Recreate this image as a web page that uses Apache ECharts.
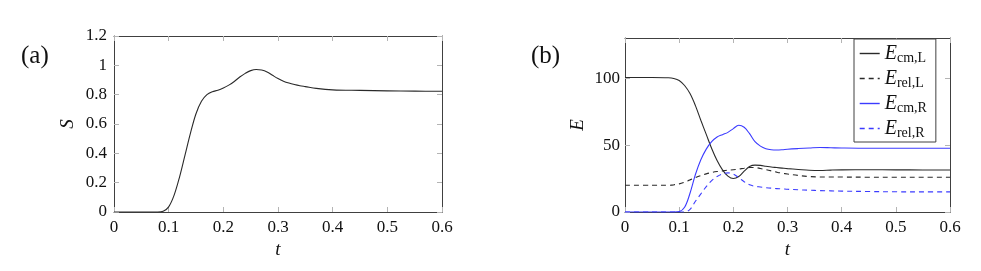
<!DOCTYPE html>
<html><head><meta charset="utf-8">
<script src="https://cdn.jsdelivr.net/npm/echarts@6/dist/echarts.min.js"></script>
<style>html,body{margin:0;padding:0;background:#fff}#c{width:981px;height:271px}</style>
</head><body><div id="c"></div>
<script>
// ---- data ----
const tS = [0,0.08,0.09,0.1,0.11,0.12,0.13,0.14,0.15,0.16,0.17,0.18,0.19,0.2,0.21,0.22,0.23,0.24,0.25,0.26,0.27,0.28,0.29,0.3,0.31,0.32,0.33,0.34,0.35,0.37,0.4,0.45,0.5,0.55,0.6];
const S  = [0,0,0.005,0.035,0.115,0.24,0.39,0.54,0.67,0.755,0.8,0.82,0.83,0.845,0.865,0.89,0.92,0.945,0.964,0.972,0.968,0.955,0.932,0.91,0.892,0.879,0.869,0.861,0.855,0.843,0.833,0.829,0.826,0.824,0.823];

const tE = [0,0.05,0.08,0.09,0.1,0.11,0.12,0.13,0.14,0.15,0.16,0.17,0.18,0.19,0.2,0.21,0.22,0.23,0.24,0.25,0.26,0.27,0.28,0.29,0.3,0.32,0.34,0.36,0.38,0.4,0.45,0.5,0.55,0.6];
const EcmL  = [100.5,100.5,100.3,99.8,98.3,94.5,88.5,79.5,68.5,58,47.5,38.5,31.5,26.8,25,26.5,30.5,34,35,34.8,34.2,33.6,33.2,32.8,32.4,31.8,31.2,31.0,31.3,31.5,31.6,31.5,31.4,31.4];
const ErelL = [20,20,20,20.3,21,22.3,24,25.7,27.2,28.5,29.5,30.2,30.7,31.2,31.6,32.1,32.7,33.2,33.2,32.5,31.6,30.7,29.8,29,28.4,27.3,26.5,26.2,26.1,26.1,26,26,26,26];
const EcmR  = [0,0,0,0,0.3,3.5,14,28,39,47,52.5,56,57.8,59.5,62.3,64.8,63.3,58.5,52.5,49.2,47.3,46.5,46.3,46.5,46.9,47.4,47.8,48.2,48,47.8,47.6,47.6,47.6,47.6];
const ErelR = [0,0,0,0,0,0,2,8,13.5,19,23.5,26.5,28.5,29.2,28.3,25.7,22.6,20.3,19.2,18.7,18.2,17.8,17.5,17.3,17,16.6,16.3,16,15.8,15.6,15.3,15.1,15,15];

const tTicks = [0,0.1,0.2,0.3,0.4,0.5,0.6];
const sTicks = [0,0.2,0.4,0.6,0.8,1,1.2];
const eTicks = [0,50,100];
const seriesNames = ['E_cm,L','E_rel,L','E_cm,R','E_rel,R'];
const panelLabels = ['(a)','(b)'];

// ---- styling ----
const FONT = 'Liberation Serif';
const frame = '#404040';
const tickC = '#b4b4b4';
const pairs = (t, v) => t.map((x, i) => [x, v[i]]);
const black = '#2a2a2a', blue = '#3b3bff';
const sColors = [black, black, blue, blue];
const sDash = ['solid', [5, 4], 'solid', [5, 4]];

function xAx(grid, pos, labels) {
  return {
    type: 'value', gridIndex: grid, position: pos, min: 0, max: 0.6, interval: 0.1,
    axisLine: {show: true, onZero: false, lineStyle: {color: frame, width: 1}},
    axisTick: {show: true, inside: true, length: 5, lineStyle: {color: tickC}},
    axisLabel: {show: labels, margin: 7, fontFamily: FONT, fontSize: 17, color: '#111'},
    splitLine: {show: false},
    name: labels ? 't' : '', nameLocation: 'middle', nameGap: 26,
    nameTextStyle: {fontFamily: FONT, fontStyle: 'italic', fontSize: 19, color: '#111'}
  };
}
function yAx(grid, pos, labels, cfg, name, gap, margin) {
  return Object.assign({
    type: 'value', gridIndex: grid, position: pos,
    axisLine: {show: true, onZero: false, lineStyle: {color: frame, width: 1}},
    axisTick: {show: true, inside: true, length: 5, lineStyle: {color: tickC}, customValues: cfg.ticks},
    axisLabel: {show: labels, margin: margin, fontFamily: FONT, fontSize: 17, color: '#111', customValues: cfg.ticks},
    splitLine: {show: false},
    name: labels ? name : '', nameLocation: 'middle', nameGap: gap, nameRotate: 90,
    nameTextStyle: {fontFamily: FONT, fontStyle: 'italic', fontSize: 19, color: '#111'}
  }, {min: cfg.min, max: cfg.max});
}

const chart = echarts.init(document.getElementById('c'), null, {renderer: 'canvas'});
const lineBase = {type: 'line', showSymbol: false, symbol: 'none', smooth: 0.35, animation: false};
const eData = [EcmL, ErelL, EcmR, ErelR];

chart.setOption({
  animation: false,
  backgroundColor: '#fff',
  title: [
    {text: panelLabels[0], left: 16, top: 39, textStyle: {fontFamily: FONT, fontWeight: 'normal', fontSize: 25, color: '#111'}},
    {text: panelLabels[1], left: 526, top: 39, textStyle: {fontFamily: FONT, fontWeight: 'normal', fontSize: 25, color: '#111'}}
  ],
  grid: [
    {left: 114, right: 539, top: 36, bottom: 59},
    {left: 625, right: 31, top: 38, bottom: 59}
  ],
  xAxis: [xAx(0, 'bottom', true), xAx(0, 'top', false), xAx(1, 'bottom', true), xAx(1, 'top', false)],
  yAxis: [
    yAx(0, 'left', true, {min: 0, max: 1.2, ticks: sTicks}, 'S', 37, 7),
    yAx(0, 'right', false, {min: 0, max: 1.2, ticks: sTicks}, '', 0, 0),
    yAx(1, 'left', true, {min: 0, max: 130, ticks: eTicks}, 'E', 38, 5),
    yAx(1, 'right', false, {min: 0, max: 130, ticks: eTicks}, '', 0, 0)
  ],
  legend: {
    data: seriesNames.map((n, i) => ({name: n, lineStyle: {color: sColors[i], width: 1.4, type: sDash[i]}, itemStyle: {opacity: 0}})),
    orient: 'vertical', left: 854, top: 39,
    padding: [3, 9, 2, 5], itemGap: 2, itemWidth: 20, itemHeight: 12,
    backgroundColor: '#fff', borderColor: frame, borderWidth: 1,
    formatter: n => { const p = n.split('_'); return '{e|' + p[0] + '}{s|' + p[1] + '}'; },
    textStyle: {
      color: '#111', lineHeight: 21,
      rich: {
        e: {fontFamily: FONT, fontStyle: 'italic', fontSize: 20, lineHeight: 21, color: '#111'},
        s: {fontFamily: FONT, fontSize: 14, lineHeight: 21, padding: [9, 0, 0, 0], color: '#111'}
      }
    }
  },
  series: [
    Object.assign({}, lineBase, {name: 'S', xAxisIndex: 0, yAxisIndex: 0, data: pairs(tS, S), itemStyle: {color: black}, lineStyle: {color: black, width: 1.1}})
  ].concat(seriesNames.map((n, i) => Object.assign({}, lineBase, {
    name: n, xAxisIndex: 2, yAxisIndex: 2, data: pairs(tE, eData[i]),
    itemStyle: {color: sColors[i]}, lineStyle: {color: sColors[i], width: 1.1, type: sDash[i]}
  })))
});
</script>
</body></html>
